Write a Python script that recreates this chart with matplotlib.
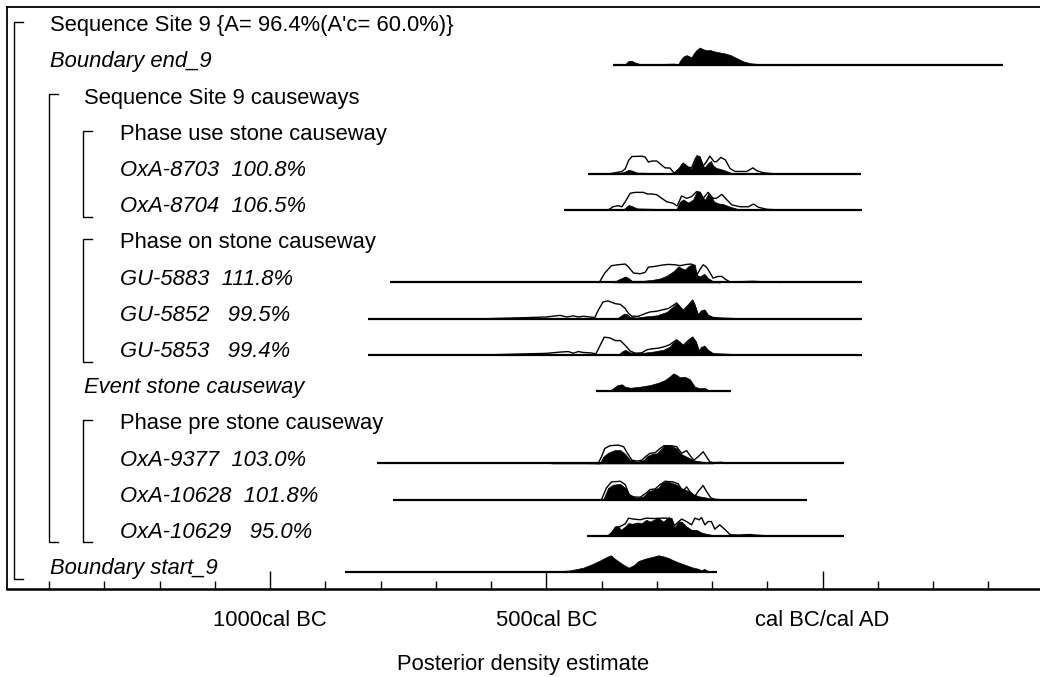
import matplotlib
matplotlib.use("Agg")
import matplotlib.pyplot as plt

plt.rcParams['font.family'] = ['Liberation Sans', 'DejaVu Sans']

# ---------------- data ----------------
labels = ["Sequence Site 9 {A= 96.4%(A'c= 60.0%)}", "Boundary end_9", "Sequence Site 9 causeways",
          "Phase use stone causeway", "OxA-8703  100.8%", "OxA-8704  106.5%",
          "Phase on stone causeway", "GU-5883  111.8%", "GU-5852   99.5%", "GU-5853   99.4%",
          "Event stone causeway", "Phase pre stone causeway", "OxA-9377  103.0%",
          "OxA-10628  101.8%", "OxA-10629   95.0%", "Boundary start_9"]
levels = [1, 1, 2, 3, 3, 3, 3, 3, 3, 3, 2, 3, 3, 3, 3, 1]
italic = [False, True, False, False, True, True, False, True, True, True,
          True, False, True, True, True, True]

# extent of each distribution's base line (years, BC negative)
range_start = [None, -379, None, None, -424, -468, None, -783, -823, -823, -410, None, -806, -777, -426, -864]
range_end = [None, 327, None, None, 70, 71, None, 71, 71, 71, -166, None, 39, -28, 39, -191]

# posterior (filled) and likelihood (outline) densities: (year, relative height)
end9_post = [(-379, 0), (-357, .06), (-351, .24), (-345, .24), (-339, .15), (-330, .06), (-294, .07),
             (-270, .09), (-261, .06), (-258, .24), (-252, .48), (-246, .56), (-240, .48), (-237, .43),
             (-234, .61), (-228, .85), (-222, .98), (-216, .89), (-210, .83), (-204, .85), (-198, .79),
             (-192, .74), (-179, .67), (-167, .57), (-155, .39), (-143, .21), (-131, .11), (-113, .06),
             (-83, .02), (-41, 0)]

oxa8703_like = [(-385, 0), (-375, .06), (-363, .13), (-357, .28), (-351, .74), (-345, .96), (-327, .98),
                (-321, .93), (-315, .65), (-309, .71), (-300, .71), (-294, .56), (-285, .33), (-276, .32),
                (-270, .09), (-267, .06), (-258, .33), (-252, .59), (-243, .37), (-237, .33), (-231, .78),
                (-227, 1.0), (-222, .94), (-216, .44), (-210, .67), (-204, .98), (-196, .67), (-192, .67),
                (-184, .91), (-176, .78), (-167, .28), (-158, .13), (-137, .13), (-126, .33), (-119, .17),
                (-107, .06), (-89, 0)]
oxa8703_post = [(-385, 0), (-360, .09), (-351, .22), (-345, .18), (-336, .07), (-294, .04), (-270, .04),
                (-261, .28), (-255, .56), (-249, .52), (-243, .37), (-237, .28), (-231, .74), (-228, .98),
                (-222, .93), (-217, .46), (-213, .37), (-207, .59), (-202, .71), (-198, .46), (-192, .32),
                (-186, .28), (-176, .18), (-167, .07), (-155, .02), (-146, 0)]

oxa8704_like = [(-388, 0), (-379, .18), (-370, .24), (-363, .18), (-357, .46), (-348, .93), (-339, .98),
                (-324, .98), (-317, .89), (-309, .89), (-300, .85), (-291, .65), (-282, .46), (-270, .37),
                (-263, .22), (-255, .78), (-246, .65), (-237, .74), (-228, 1.02), (-222, .98), (-216, .65),
                (-207, .98), (-198, .65), (-192, .65), (-182, .87), (-173, .56), (-164, .28), (-149, .18),
                (-134, .18), (-125, .33), (-116, .15), (-101, .04), (-77, 0)]
oxa8704_post = [(-370, 0), (-360, .04), (-351, .28), (-345, .22), (-336, .09), (-294, .06), (-264, .06),
                (-258, .46), (-252, .59), (-243, .41), (-234, .59), (-228, 1.02), (-222, 1.02), (-217, .74),
                (-213, .56), (-207, .89), (-201, .74), (-196, .46), (-189, .37), (-179, .32), (-167, .18),
                (-155, .07), (-143, .02), (-137, 0)]

gu5883_like = [(-404, 0), (-394, .52), (-382, .93), (-370, .98), (-357, 1.02), (-351, .85), (-342, .52),
               (-330, .48), (-321, .56), (-315, .85), (-303, .89), (-291, .96), (-279, 1.0), (-267, .98),
               (-258, .93), (-246, 1.0), (-237, 1.02), (-231, .79), (-227, .43), (-222, .71), (-216, .98),
               (-210, .85), (-204, .56), (-198, .24), (-189, .33), (-182, .33), (-176, .18), (-167, .02),
               (-125, .06), (-101, .02), (-77, 0)]
gu5883_post = [(-379, 0), (-370, .15), (-357, .33), (-351, .24), (-345, .09), (-324, .09), (-306, .15),
               (-294, .22), (-282, .37), (-270, .61), (-261, .89), (-255, .79), (-249, .71), (-243, .89),
               (-235, 1.02), (-231, .98), (-228, .43), (-222, .33), (-214, .48), (-207, .24), (-198, .06),
               (-192, .02), (-186, 0)]

gu5852_like = [(-600, 0), (-540, .05), (-500, .09), (-475, .18), (-463, .09), (-451, .15), (-442, .09),
               (-433, .13), (-421, .09), (-412, .06), (-406, .46), (-397, .93), (-388, .98), (-375, .83),
               (-366, .79), (-357, .56), (-351, .28), (-345, .13), (-333, .13), (-321, .28), (-312, .37),
               (-300, .41), (-288, .5), (-279, .56), (-270, .74), (-264, .87), (-258, .65), (-252, .46),
               (-243, .74), (-235, 1.02), (-231, .74), (-225, .18), (-219, .41), (-213, .46), (-207, .18),
               (-198, .06), (-179, .02), (-161, 0)]
gu5852_post = [(-373, 0), (-366, .13), (-359, .28), (-354, .24), (-348, .09), (-336, .06), (-318, .13),
               (-300, .18), (-282, .37), (-270, .68), (-264, .87), (-258, .65), (-252, .46), (-243, .74),
               (-235, 1.02), (-231, .74), (-225, .18), (-219, .41), (-213, .46), (-207, .18), (-198, .06),
               (-179, .02), (-167, 0)]

gu5853_like = [(-600, 0), (-540, .05), (-500, .08), (-475, .15), (-460, .18), (-451, .09), (-442, .18),
               (-433, .13), (-421, .11), (-410, .06), (-404, .43), (-395, .98), (-385, .94), (-375, .79),
               (-366, .79), (-357, .52), (-348, .21), (-339, .09), (-327, .11), (-318, .28), (-309, .33),
               (-297, .37), (-285, .46), (-276, .57), (-270, .71), (-264, .83), (-259, .71), (-252, .52),
               (-243, .79), (-235, .98), (-229, .71), (-223, .15), (-219, .39), (-213, .46), (-207, .24),
               (-198, .06), (-173, .02), (-161, 0)]
gu5853_post = [(-370, 0), (-363, .18), (-357, .28), (-348, .13), (-330, .09), (-306, .18), (-288, .28),
               (-276, .46), (-270, .71), (-264, .83), (-259, .71), (-252, .52), (-243, .79), (-235, .98),
               (-229, .71), (-223, .15), (-219, .39), (-213, .46), (-207, .24), (-198, .06), (-173, .02),
               (-167, 0)]

event_post = [(-388, 0), (-385, .02), (-379, .15), (-371, .33), (-363, .37), (-357, .24), (-348, .18),
              (-330, .24), (-312, .33), (-297, .46), (-285, .61), (-277, .79), (-270, .98), (-264, .89),
              (-258, .76), (-249, .79), (-240, .65), (-231, .24), (-222, .15), (-213, .18), (-207, .06),
              (-198, 0)]

oxa9377_like = [(-490, 0), (-470, .04), (-450, .02), (-420, .01), (-406, 0), (-400, .37), (-394, .83),
                (-385, .98), (-370, 1.02), (-360, .93), (-353, .56), (-345, .18), (-336, .13), (-327, .18),
                (-319, .41), (-312, .56), (-303, .59), (-294, .83), (-287, .98), (-273, .98), (-264, .93),
                (-255, .56), (-246, .71), (-239, .41), (-233, .18), (-225, .37), (-216, .65), (-210, .37),
                (-204, .09), (-198, .04), (-183, .06), (-174, 0)]
oxa9377_post = [(-490, 0), (-470, .04), (-450, .02), (-420, .01), (-403, 0), (-397, .37), (-388, .59),
                (-376, .74), (-366, .74), (-357, .52), (-348, .18), (-336, .09), (-324, .18), (-317, .41),
                (-309, .52), (-300, .56), (-293, .78), (-285, 1.02), (-273, .96), (-264, .83), (-258, .56),
                (-252, .46), (-243, .33), (-234, .18), (-225, .13), (-216, .09), (-207, .04), (-198, 0)]

oxa10628_like = [(-400, 0), (-391, .65), (-382, .98), (-366, 1.02), (-357, .83), (-350, .28), (-342, .15),
                 (-330, .13), (-319, .37), (-312, .56), (-303, .59), (-294, .83), (-285, 1.02), (-270, .98),
                 (-261, .87), (-253, .46), (-246, .71), (-239, .41), (-231, .18), (-225, .46), (-216, .78),
                 (-210, .46), (-202, .09), (-195, .02), (-186, 0)]
oxa10628_post = [(-397, 0), (-388, .65), (-379, .83), (-366, .87), (-357, .65), (-348, .22), (-336, .09),
                 (-324, .18), (-315, .46), (-306, .56), (-297, .65), (-291, .89), (-283, 1.02), (-273, .93),
                 (-264, .83), (-257, .65), (-249, .56), (-241, .46), (-233, .28), (-223, .18), (-213, .13),
                 (-204, .07), (-192, 0)]

oxa10629_like = [(-388, 0), (-379, .24), (-366, .52), (-357, .67), (-351, .98), (-342, .93), (-330, .89),
                 (-319, .98), (-306, .96), (-291, .98), (-282, .98), (-275, .89), (-270, .52), (-263, .71),
                 (-255, .93), (-246, .79), (-237, .61), (-231, .98), (-223, .89), (-219, 1.02), (-213, .61),
                 (-207, .79), (-201, .79), (-195, .37), (-186, .61), (-176, .33), (-167, .06), (-152, .04),
                 (-131, .07), (-122, .04), (-101, 0)]
oxa10629_post = [(-388, 0), (-382, .24), (-376, .52), (-370, .56), (-365, .33), (-357, .52), (-351, .71),
                 (-344, .67), (-336, .74), (-327, .71), (-319, .89), (-312, .79), (-303, .93), (-297, .98),
                 (-288, .79), (-279, 1.04), (-273, .98), (-267, .48), (-261, .79), (-255, .79), (-246, .52),
                 (-237, .33), (-228, .33), (-219, .18), (-210, .11), (-198, .04), (-186, 0)]

start9_post = [(-540, 0), (-511, .01), (-481, .04), (-457, .09), (-433, .24), (-415, .46), (-400, .68),
               (-391, .83), (-383, .93), (-376, .74), (-363, .46), (-351, .24), (-342, .37), (-333, .61),
               (-321, .74), (-309, .83), (-297, .93), (-288, .87), (-279, .78), (-270, .65), (-258, .5),
               (-246, .37), (-234, .24), (-225, .18), (-219, .09), (-214, .18), (-210, .09), (-204, .04),
               (-198, .02), (-192, 0)]

posteriors = {1: end9_post, 4: oxa8703_post, 5: oxa8704_post, 7: gu5883_post, 8: gu5852_post,
              9: gu5853_post, 10: event_post, 12: oxa9377_post, 13: oxa10628_post,
              14: oxa10629_post, 15: start9_post}
likelihoods = {4: oxa8703_like, 5: oxa8704_like, 7: gu5883_like, 8: gu5852_like, 9: gu5853_like,
               12: oxa9377_like, 13: oxa10628_like, 14: oxa10629_like}

# brackets: (level, first row, last row, bottom offset)
brackets = [(1, 0, 15, 0.19), (2, 2, 14, 0.17), (3, 3, 5, 0.19), (3, 6, 9, 0.19), (3, 11, 14, 0.17)]

major_ticks = [-1000, -500, 0]
major_labels = ["1000cal BC", "500cal BC", "cal BC/cal AD"]
minor_ticks = [y for y in range(-1400, 301, 100) if y not in major_ticks]

# ---------------- layout ----------------
W, H = 1040, 677
fig = plt.figure(figsize=(W / 100, H / 100), dpi=100)
ax_left, ax_right, ax_top, ax_bottom = 7, 1040, 7, 589
ax = fig.add_axes([ax_left / W, 1 - ax_bottom / H, (ax_right - ax_left) / W, (ax_bottom - ax_top) / H])

X0, SCALE = 822.5, 0.5525          # pixel of year 0, pixels per year
ROW0, ROWH = 29.0, 36.2            # pixel baseline of first row, row spacing


def yr(px):
    return (px - X0) / SCALE


ax.set_xlim(yr(ax_left), yr(ax_right))
ax.set_ylim((ax_bottom - ROW0) / ROWH, (ax_top - ROW0) / ROWH)

FS = 15.8
HSCALE = 18.0 / ROWH
text_x = {1: yr(50), 2: yr(84), 3: yr(120)}
brk_x = {1: (yr(14), yr(23)), 2: (yr(49), yr(58)), 3: (yr(83), yr(92))}

for r, lab in enumerate(labels):
    ax.text(text_x[levels[r]], r + 0.06, lab, fontsize=FS, va='baseline', ha='left',
            style='italic' if italic[r] else 'normal', color='black')
    if range_start[r] is not None:
        ax.plot([range_start[r], range_end[r]], [r, r], color='black', lw=1.6,
                solid_capstyle='butt')
    if r in posteriors:
        xs = [p[0] for p in posteriors[r]]
        hs = [r - p[1] * HSCALE for p in posteriors[r]]
        ax.fill_between(xs, r, hs, color='black', lw=0.5, edgecolor='black')
    if r in likelihoods:
        xs = [p[0] for p in likelihoods[r]]
        hs = [r - p[1] * HSCALE for p in likelihoods[r]]
        ax.plot(xs, hs, color='black', lw=1.0)

for lev, r0, r1, boff in brackets:
    xv, xh = brk_x[lev]
    ytop = r0 - 7 / ROWH
    ybot = r1 + boff
    ax.plot([xh, xv, xv, xh], [ytop, ytop, ybot, ybot], color='black', lw=1.0,
            solid_joinstyle='miter')

for s in ['right']:
    ax.spines[s].set_visible(False)
ax.spines['left'].set_linewidth(1.3)
ax.spines['top'].set_linewidth(1.3)
ax.spines['bottom'].set_linewidth(1.8)

ax.set_xticks(major_ticks)
ax.set_xticklabels(major_labels, fontsize=FS)
ax.set_xticks(minor_ticks, minor=True)
ax.tick_params(axis='x', which='major', direction='in', length=13, width=1.0, pad=15)
ax.tick_params(axis='x', which='minor', direction='in', length=6, width=1.0)
ax.set_yticks([])

fig.text((ax_left + ax_right) / 2 / W, 1 - 670 / H, "Posterior density estimate",
         fontsize=FS, ha='center', va='baseline')

fig.savefig("out.png", dpi=100)
